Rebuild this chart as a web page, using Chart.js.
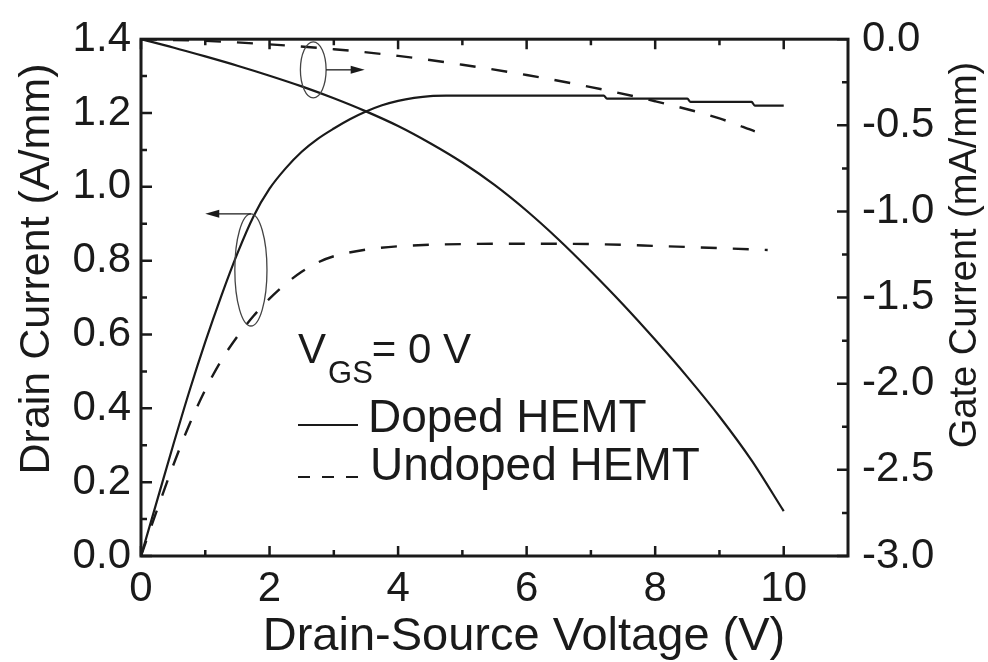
<!DOCTYPE html>
<html>
<head>
<meta charset="utf-8">
<script src="https://cdn.jsdelivr.net/npm/chart.js@4.4.0/dist/chart.umd.min.js"></script>
<style>
  html, body { margin: 0; padding: 0; background: #fff; }
  #wrap { width: 988px; height: 662px; }
</style>
</head>
<body>
<div id="wrap"><canvas id="ivChart" width="988" height="662"></canvas></div>
<script>
// drain current (A/mm) vs drain-source voltage (V)
const vdsDoped = [0, 0.25, 0.5, 0.75, 1.0, 1.25, 1.5, 1.75, 2.0, 2.25, 2.5, 2.75, 3.0, 3.25, 3.5, 3.75, 4.0, 4.25, 4.5, 4.75, 7.2, 7.25, 8.5, 8.55, 9.5, 9.55, 10.0];
const idDoped = [0, 0.15, 0.30, 0.445, 0.58, 0.705, 0.82, 0.92, 0.995, 1.05, 1.095, 1.13, 1.158, 1.183, 1.204, 1.221, 1.233, 1.241, 1.246, 1.247, 1.247, 1.239, 1.239, 1.23, 1.23, 1.22, 1.22];

const vdsUndoped = [0, 0.25, 0.5, 0.75, 1.0, 1.25, 1.5, 1.75, 2.0, 2.25, 2.5, 2.75, 3.0, 3.5, 4.0, 5.0, 6.0, 7.0, 8.0, 9.0, 9.75];
const idUndoped = [0, 0.125, 0.245, 0.355, 0.45, 0.53, 0.595, 0.65, 0.697, 0.737, 0.77, 0.795, 0.812, 0.83, 0.839, 0.845, 0.846, 0.845, 0.84, 0.834, 0.829];

// gate current (mA/mm)
const vdsGateDoped = [0, 0.5, 1.0, 1.5, 2.0, 2.5, 3.0, 3.5, 4.0, 4.5, 5.0, 5.5, 6.0, 6.5, 7.0, 7.5, 8.0, 8.5, 9.0, 9.5, 10.0];
const igDoped = [0, -0.048, -0.1, -0.154, -0.212, -0.274, -0.343, -0.419, -0.504, -0.604, -0.716, -0.846, -0.996, -1.164, -1.347, -1.54, -1.745, -1.96, -2.19, -2.445, -2.74];

const vdsGateUndoped = [0, 1, 2, 3, 4, 5, 6, 7, 8, 9, 9.55];
const igUndoped = [0, -0.01, -0.03, -0.058, -0.097, -0.148, -0.208, -0.278, -0.36, -0.46, -0.535];

const xMajorTicks = [0, 2, 4, 6, 8, 10];
const xMinorTicks = [1, 3, 5, 7, 9];
const yMajorTicks = [0, 0.2, 0.4, 0.6, 0.8, 1.0, 1.2, 1.4];
const yMinorTicks = [0.1, 0.3, 0.5, 0.7, 0.9, 1.1, 1.3];
const y1MajorTicks = [0, -0.5, -1.0, -1.5, -2.0, -2.5, -3.0];
const y1MinorTicks = [-0.25, -0.75, -1.25, -1.75, -2.25, -2.75];

// loops grouping curve pairs, with arrows pointing to their axis
const loops = [
  { v: 2.68, i: 1.317, rv: 0.2, ri: 0.076, arrowFrom: 'side', arrowTo: 3.48 },
  { v: 1.71, i: 0.775, rv: 0.25, ri: 0.152, arrowFrom: 'top', arrowTo: 1.0 }
];

const INK = '#1a1a1a';
const FONT = '"Liberation Sans", Arial, sans-serif';

function pts(xs, ys) {
  return xs.map((x, k) => ({ x: x, y: ys[k] }));
}

const frame = {
  id: 'frame',
  afterDatasetsDraw(chart) {
    const { ctx, chartArea: a, scales } = chart;
    const x = scales.x, y = scales.y, y1 = scales.y1;
    ctx.save();
    ctx.strokeStyle = INK;
    ctx.lineWidth = 2.5;
    ctx.beginPath();
    const xt = (vals, len) => vals.forEach(v => {
      const px = x.getPixelForValue(v);
      ctx.moveTo(px, a.bottom); ctx.lineTo(px, a.bottom - len);
      ctx.moveTo(px, a.top); ctx.lineTo(px, a.top + len);
    });
    xt(xMajorTicks, 10);
    xt(xMinorTicks, 6);
    yMajorTicks.forEach(v => { const py = y.getPixelForValue(v); ctx.moveTo(a.left, py); ctx.lineTo(a.left + 11, py); });
    yMinorTicks.forEach(v => { const py = y.getPixelForValue(v); ctx.moveTo(a.left, py); ctx.lineTo(a.left + 6, py); });
    y1MajorTicks.forEach(v => { const py = y1.getPixelForValue(v); ctx.moveTo(a.right, py); ctx.lineTo(a.right - 11, py); });
    y1MinorTicks.forEach(v => { const py = y1.getPixelForValue(v); ctx.moveTo(a.right, py); ctx.lineTo(a.right - 6, py); });
    ctx.stroke();

    ctx.lineWidth = 3;
    ctx.strokeRect(a.left, a.top, a.right - a.left, a.bottom - a.top);

    // loops and arrows
    ctx.fillStyle = INK;
    loops.forEach(l => {
      const cx = x.getPixelForValue(l.v), cy = y.getPixelForValue(l.i);
      const rx = x.getPixelForValue(l.v + l.rv) - cx;
      const ry = cy - y.getPixelForValue(l.i + l.ri);
      ctx.strokeStyle = '#444';
      ctx.lineWidth = 1.3;
      ctx.beginPath();
      ctx.ellipse(cx, cy, rx, ry, 0, 0, Math.PI * 2);
      ctx.stroke();
      let sx, sy;
      if (l.arrowFrom === 'side') { sx = cx + rx; sy = cy; } else { sx = cx; sy = cy - ry; }
      const ex = x.getPixelForValue(l.arrowTo);
      const dir = ex > sx ? 1 : -1;
      ctx.strokeStyle = INK;
      ctx.beginPath();
      ctx.moveTo(sx, sy);
      ctx.lineTo(ex - dir * 10, sy);
      ctx.stroke();
      ctx.beginPath();
      ctx.moveTo(ex, sy);
      ctx.lineTo(ex - dir * 14, sy - 4);
      ctx.lineTo(ex - dir * 14, sy + 4);
      ctx.closePath();
      ctx.fill();
    });

    // inline legend
    const lx = a.left + 157;
    ctx.fillStyle = INK;
    ctx.textBaseline = 'alphabetic';
    ctx.textAlign = 'left';
    ctx.font = '42px ' + FONT;
    ctx.fillText('V', lx, 363);
    const w = ctx.measureText('V').width;
    ctx.font = '31px ' + FONT;
    ctx.fillText('GS', lx + w + 2, 383);
    const w2 = ctx.measureText('GS').width;
    ctx.font = '42px ' + FONT;
    ctx.fillText('= 0 V', lx + w + w2 + 1, 363);

    ctx.strokeStyle = INK;
    ctx.lineWidth = 2.2;
    ctx.beginPath();
    ctx.moveTo(lx, 425); ctx.lineTo(lx + 60, 425);
    ctx.stroke();
    ctx.setLineDash([12, 12]);
    ctx.beginPath();
    ctx.moveTo(lx, 477); ctx.lineTo(lx + 60, 477);
    ctx.stroke();
    ctx.setLineDash([]);
    ctx.font = '46px ' + FONT;
    ctx.fillText('Doped HEMT', lx + 70, 432);
    ctx.fillText('Undoped HEMT', lx + 72, 480);

    // axis titles
    ctx.textAlign = 'center';
    ctx.font = '47px ' + FONT;
    ctx.fillText('Drain-Source Voltage (V)', 524, 650);
    ctx.save();
    ctx.translate(49, 269);
    ctx.rotate(-Math.PI / 2);
    ctx.font = '43px ' + FONT;
    ctx.fillText('Drain Current (A/mm)', 0, 0);
    ctx.restore();
    ctx.save();
    ctx.translate(976, 255);
    ctx.rotate(-Math.PI / 2);
    ctx.font = '38px ' + FONT;
    ctx.fillText('Gate Current (mA/mm)', 0, 0);
    ctx.restore();
    ctx.restore();
  }
};

const tickFont = { family: FONT, size: 42 };

new Chart(document.getElementById('ivChart'), {
  type: 'line',
  data: {
    datasets: [
      { label: 'Doped HEMT', data: pts(vdsDoped, idDoped), yAxisID: 'y', borderColor: INK, borderWidth: 2.2 },
      { label: 'Undoped HEMT', data: pts(vdsUndoped, idUndoped), yAxisID: 'y', borderColor: INK, borderWidth: 2.4, borderDash: [16, 16] },
      { label: 'Doped HEMT gate', data: pts(vdsGateDoped, igDoped), yAxisID: 'y1', borderColor: INK, borderWidth: 2.2 },
      { label: 'Undoped HEMT gate', data: pts(vdsGateUndoped, igUndoped), yAxisID: 'y1', borderColor: INK, borderWidth: 2.4, borderDash: [16, 16] }
    ]
  },
  options: {
    responsive: false,
    animation: false,
    devicePixelRatio: 1,
    layout: { padding: { top: 32, left: 0, right: 0, bottom: 0 } },
    elements: {
      point: { radius: 0 },
      line: { cubicInterpolationMode: 'monotone', fill: false }
    },
    plugins: { legend: { display: false }, tooltip: { enabled: false } },
    scales: {
      x: {
        type: 'linear', min: 0, max: 11,
        grid: { display: false, drawTicks: false },
        border: { display: false },
        afterBuildTicks: s => { s.ticks = xMajorTicks.map(v => ({ value: v })); },
        afterFit: s => { s.height = 106; },
        ticks: { font: tickFont, color: INK, padding: 8, maxRotation: 0 }
      },
      y: {
        position: 'left', min: 0, max: 1.4,
        grid: { display: false, drawTicks: false },
        border: { display: false },
        afterBuildTicks: s => { s.ticks = yMajorTicks.map(v => ({ value: v })); },
        afterFit: s => { s.width = 141; },
        ticks: { font: tickFont, color: INK, padding: 10, callback: v => v.toFixed(1) }
      },
      y1: {
        position: 'right', min: -3, max: 0,
        grid: { display: false, drawTicks: false },
        border: { display: false },
        afterBuildTicks: s => { s.ticks = y1MajorTicks.map(v => ({ value: v })); },
        afterFit: s => { s.width = 140; },
        ticks: { font: tickFont, color: INK, padding: 14, callback: v => v.toFixed(1) }
      }
    }
  },
  plugins: [frame]
});
</script>
</body>
</html>
